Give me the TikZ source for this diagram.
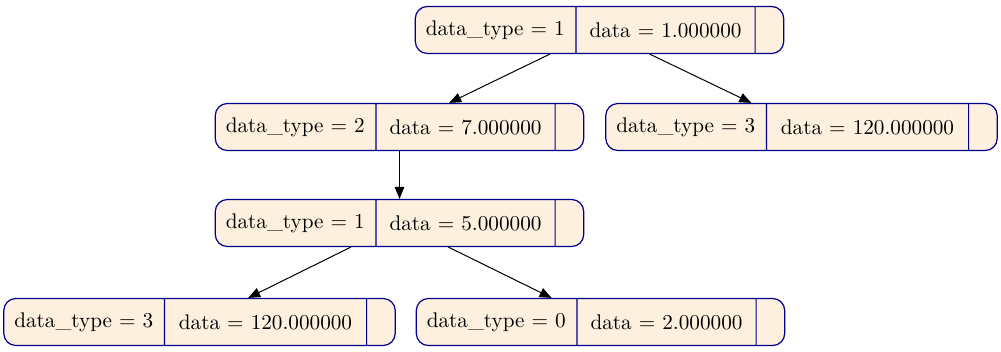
\documentclass[tikz,border=0pt]{standalone}
\usepackage{tikz}
\usetikzlibrary{arrows.meta,shapes.multipart}

\definecolor{recfill}{RGB}{253,240,222}
\definecolor{recline}{RGB}{0,0,139}

% fields of one record: type, value, width of the value field
\newcommand{\recbody}[3]{%
  \makebox[68pt]{data\_type = #1}%
  \nodepart{two}\makebox[#3]{data = #2}%
  \nodepart{three}\hspace*{2pt}}

\begin{document}
\begin{tikzpicture}[
  x=0.5pt, y=-0.5pt,
  rec/.style={rectangle split, rectangle split horizontal, rectangle split parts=3,
    draw=recline, fill=recfill, line width=0.6pt, rounded corners=6pt,
    minimum height=23.5pt, inner xsep=6pt, inner ysep=0pt,
    font=\fontsize{10.6}{12.5}\selectfont},
  arr/.style={-{Triangle[length=6pt,width=4.8pt]},line width=0.5pt}
]
\useasboundingbox (0,0) rectangle (1001,352);

\node[rec] (root) at (599.5,30) {\recbody{1}{1.000000}{77pt}};
\node[rec] (n2) at (399.5,127) {\recbody{2}{7.000000}{77pt}};
\node[rec] (n3) at (801.5,127) {\recbody{3}{120.000000}{88.5pt}};
\node[rec] (n4) at (399.5,223) {\recbody{1}{5.000000}{77pt}};
\node[rec] (n5) at (199.5,322) {\recbody{3}{120.000000}{88.5pt}};
\node[rec] (n6) at (600.5,322) {\recbody{0}{2.000000}{77pt}};

\draw[arr] (root) -- (n2);
\draw[arr] (root) -- (n3);
\draw[arr] (n2) -- (n4);
\draw[arr] (n4) -- (n5);
\draw[arr] (n4) -- (n6);
\end{tikzpicture}
\end{document}
